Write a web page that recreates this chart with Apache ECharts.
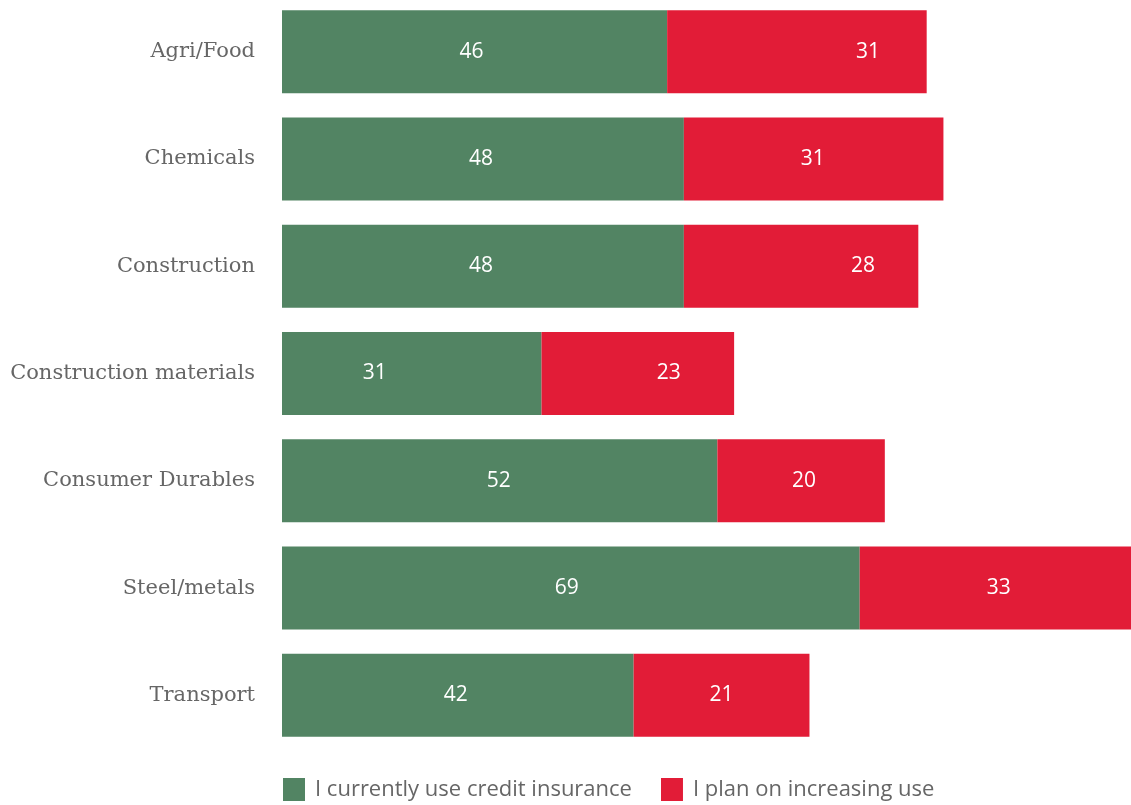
<!DOCTYPE html>
<html>
<head>
<meta charset="utf-8">
<script src="https://cdn.jsdelivr.net/npm/echarts@6/dist/echarts.min.js"></script>
<style>
  html, body { margin: 0; padding: 0; background: #fff; }
  #chart { width: 1131px; height: 805px; }
</style>
</head>
<body>
<div id="chart"></div>
<script>
// Sectors, top to bottom
const categories = ['Agri/Food', 'Chemicals', 'Construction', 'Construction materials', 'Consumer Durables', 'Steel/metals', 'Transport'];
// Share of respondents (%)
const currentUse = [46, 48, 48, 31, 52, 69, 42];
const planIncrease = [31, 31, 28, 23, 20, 33, 21];
const seriesNames = ['I currently use credit insurance', 'I plan on increasing use'];

// Horizontal nudges for the value labels, in pixels
const currentLabelShift = [-3, -2, -2, -37, -1, -4, -2];
const planLabelShift = [71, -1, 62, 31, 3, 1, 0];

const chart = echarts.init(document.getElementById('chart'));

function withShift(values, shifts) {
  return values.map((v, i) => ({ value: v, label: { offset: [shifts[i], 0] } }));
}

const labelStyle = {
  show: true,
  position: 'inside',
  color: '#ffffff',
  fontFamily: 'Open Sans',
  fontSize: 21
};

chart.setOption({
  animation: false,
  grid: { left: 282, width: 854, top: -2, height: 751, outerBoundsMode: 'none', containLabel: false },
  legend: {
    data: seriesNames,
    top: 778,
    left: 283,
    padding: 0,
    itemWidth: 22,
    itemHeight: 23,
    itemGap: 29,
    icon: 'rect',
    textStyle: { color: '#666666', fontFamily: 'Open Sans', fontSize: 22, padding: [0, 0, 0, 5] }
  },
  xAxis: {
    type: 'value',
    min: 0,
    max: 102,
    show: false
  },
  yAxis: {
    type: 'category',
    data: categories,
    inverse: true,
    axisLine: { show: false },
    axisTick: { show: false },
    splitLine: { show: false },
    axisLabel: {
      color: '#666666',
      fontFamily: 'DejaVu Serif',
      fontSize: 21,
      margin: 27
    }
  },
  series: [
    {
      name: seriesNames[0],
      type: 'bar',
      stack: 'total',
      barWidth: 83,
      itemStyle: { color: '#528463' },
      label: labelStyle,
      data: withShift(currentUse, currentLabelShift)
    },
    {
      name: seriesNames[1],
      type: 'bar',
      stack: 'total',
      barWidth: 83,
      itemStyle: { color: '#E21C37' },
      label: labelStyle,
      data: withShift(planIncrease, planLabelShift)
    }
  ]
});
</script>
</body>
</html>
